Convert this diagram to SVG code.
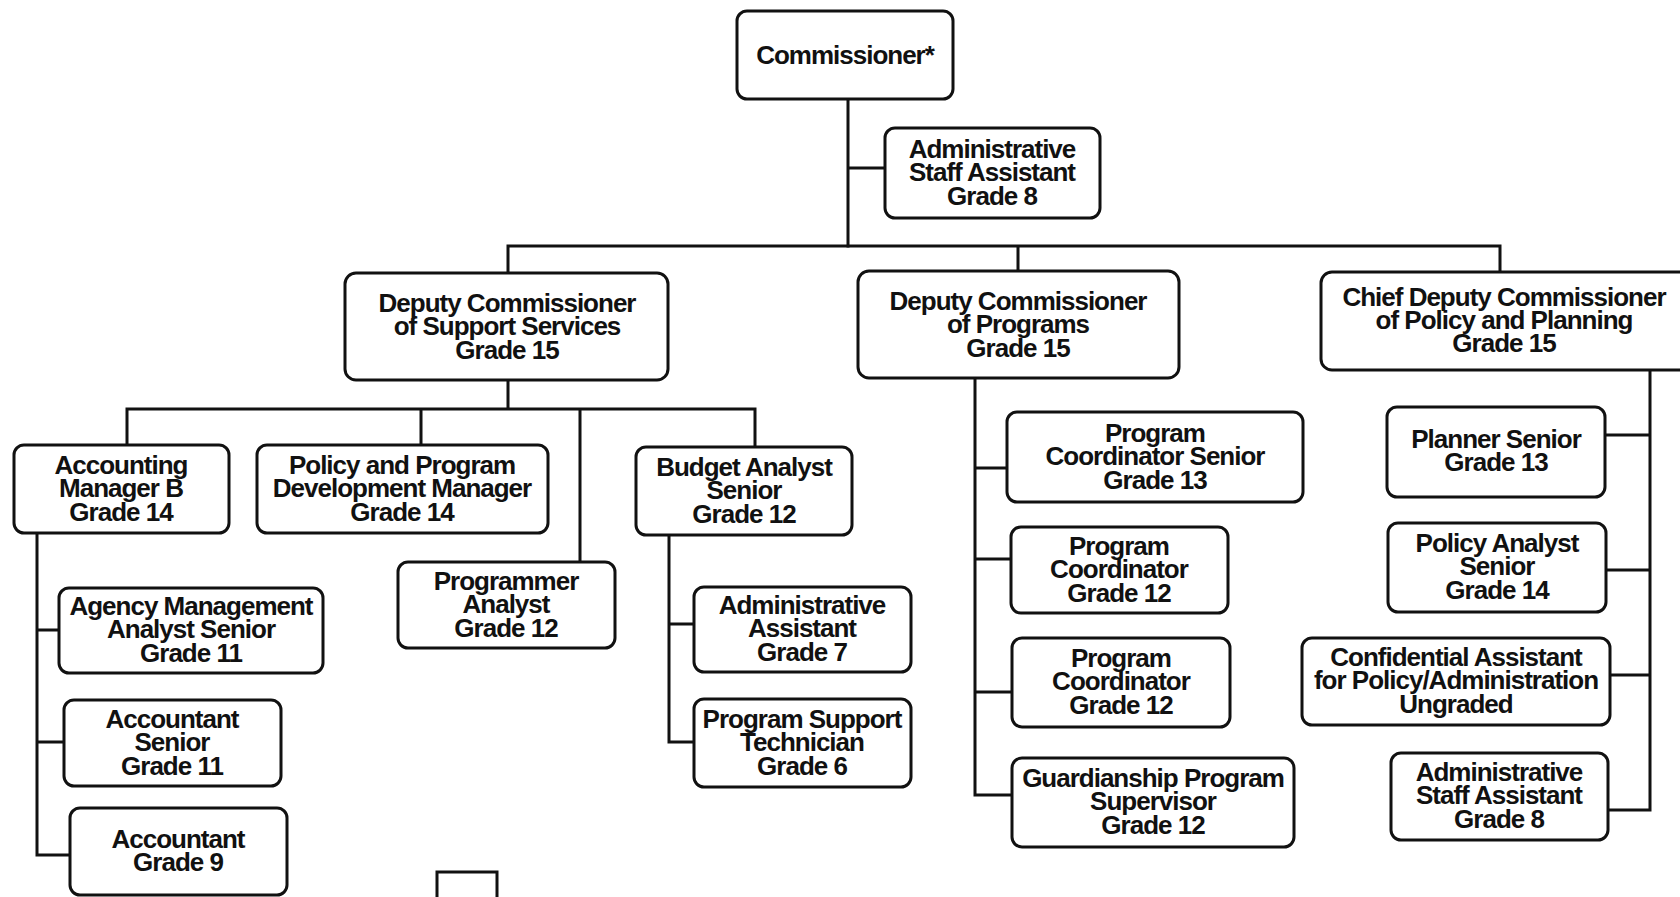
<svg xmlns="http://www.w3.org/2000/svg" width="1680" height="897" viewBox="0 0 1680 897">
<style>
.box{fill:#fff;stroke:#111;stroke-width:3}
.c{fill:none;stroke:#111;stroke-width:3;stroke-linecap:square}
text{font-family:"Liberation Sans",Arial,sans-serif;font-weight:bold;font-size:26px;letter-spacing:-1px;fill:#111;text-anchor:middle}
</style>
<rect width="1680" height="897" fill="#fff"/>
<g id="connectors">
<path class="c" d="M848 99V246M848 168H885"/>
<path class="c" d="M508 273V246H1500V272M1018 246V271"/>
<path class="c" d="M508 380V409M127 445V409H755V447M421 409V445M580 409V562"/>
<path class="c" d="M37 533V855M37 630H59M37 742H64M37 855H70"/>
<path class="c" d="M669 535V742M669 624H694M669 742H694"/>
<path class="c" d="M975 378V795M975 468H1007M975 559H1011M975 692H1012M975 795H1012"/>
<path class="c" d="M1650 370V810M1605 435H1650M1606 570H1650M1610 675H1650M1608 810H1650"/>
</g>
<g id="commissioner"><rect class="box" x="737" y="11" width="216" height="88" rx="10"/><text x="845" y="64">Commissioner*</text></g>
<g id="admin-staff-assistant-top"><rect class="box" x="885" y="128" width="215" height="90" rx="10"/><text x="992" y="158">Administrative</text><text x="992" y="181">Staff Assistant</text><text x="992" y="205">Grade 8</text></g>
<g id="dc-support"><rect class="box" x="345" y="273" width="323" height="107" rx="11"/><text x="507" y="312">Deputy Commissioner</text><text x="507" y="335">of Support Services</text><text x="507" y="359">Grade 15</text></g>
<g id="dc-programs"><rect class="box" x="858" y="271" width="321" height="107" rx="11"/><text x="1018" y="310">Deputy Commissioner</text><text x="1018" y="333">of Programs</text><text x="1018" y="357">Grade 15</text></g>
<g id="cdc-policy"><rect class="box" x="1321" y="272" width="372" height="98" rx="11"/><text x="1504" y="306">Chief Deputy Commissioner</text><text x="1504" y="329">of Policy and Planning</text><text x="1504" y="352">Grade 15</text></g>
<g id="accounting-manager"><rect class="box" x="14" y="445" width="215" height="88" rx="10"/><text x="121" y="474">Accounting</text><text x="121" y="497">Manager B</text><text x="121" y="521">Grade 14</text></g>
<g id="ppd-manager"><rect class="box" x="257" y="445" width="291" height="88" rx="10"/><text x="402" y="474">Policy and Program</text><text x="402" y="497">Development Manager</text><text x="402" y="521">Grade 14</text></g>
<g id="programmer-analyst"><rect class="box" x="398" y="562" width="217" height="86" rx="10"/><text x="506" y="590">Programmer</text><text x="506" y="613">Analyst</text><text x="506" y="637">Grade 12</text></g>
<g id="budget-analyst"><rect class="box" x="636" y="447" width="216" height="88" rx="10"/><text x="744" y="476">Budget Analyst</text><text x="744" y="499">Senior</text><text x="744" y="523">Grade 12</text></g>
<g id="agency-mgmt"><rect class="box" x="59" y="588" width="264" height="85" rx="10"/><text x="191" y="615">Agency Management</text><text x="191" y="638">Analyst Senior</text><text x="191" y="662">Grade 11</text></g>
<g id="accountant-senior"><rect class="box" x="64" y="700" width="217" height="86" rx="10"/><text x="172" y="728">Accountant</text><text x="172" y="751">Senior</text><text x="172" y="775">Grade 11</text></g>
<g id="accountant"><rect class="box" x="70" y="808" width="217" height="87" rx="10"/><text x="178" y="848">Accountant</text><text x="178" y="871">Grade 9</text></g>
<g id="admin-assistant"><rect class="box" x="694" y="587" width="217" height="85" rx="10"/><text x="802" y="614">Administrative</text><text x="802" y="637">Assistant</text><text x="802" y="661">Grade 7</text></g>
<g id="program-support-tech"><rect class="box" x="694" y="699" width="217" height="88" rx="10"/><text x="802" y="728">Program Support</text><text x="802" y="751">Technician</text><text x="802" y="775">Grade 6</text></g>
<g id="program-coord-senior"><rect class="box" x="1007" y="412" width="296" height="90" rx="10"/><text x="1155" y="442">Program</text><text x="1155" y="465">Coordinator Senior</text><text x="1155" y="489">Grade 13</text></g>
<g id="program-coord-1"><rect class="box" x="1011" y="527" width="217" height="86" rx="10"/><text x="1119" y="555">Program</text><text x="1119" y="578">Coordinator</text><text x="1119" y="602">Grade 12</text></g>
<g id="program-coord-2"><rect class="box" x="1012" y="638" width="218" height="89" rx="10"/><text x="1121" y="667">Program</text><text x="1121" y="690">Coordinator</text><text x="1121" y="714">Grade 12</text></g>
<g id="guardianship"><rect class="box" x="1012" y="758" width="282" height="89" rx="10"/><text x="1153" y="787">Guardianship Program</text><text x="1153" y="810">Supervisor</text><text x="1153" y="834">Grade 12</text></g>
<g id="planner-senior"><rect class="box" x="1387" y="407" width="218" height="90" rx="10"/><text x="1496" y="448">Planner Senior</text><text x="1496" y="471">Grade 13</text></g>
<g id="policy-analyst-senior"><rect class="box" x="1388" y="523" width="218" height="89" rx="10"/><text x="1497" y="552">Policy Analyst</text><text x="1497" y="575">Senior</text><text x="1497" y="599">Grade 14</text></g>
<g id="confidential-assistant"><rect class="box" x="1302" y="638" width="308" height="87" rx="10"/><text x="1456" y="666">Confidential Assistant</text><text x="1456" y="689">for Policy/Administration</text><text x="1456" y="713">Ungraded</text></g>
<g id="admin-staff-assistant-right"><rect class="box" x="1391" y="753" width="217" height="87" rx="10"/><text x="1499" y="781">Administrative</text><text x="1499" y="804">Staff Assistant</text><text x="1499" y="828">Grade 8</text></g>
<g id="empty-box"><rect class="box" x="437" y="872" width="60" height="40"/></g>
</svg>
